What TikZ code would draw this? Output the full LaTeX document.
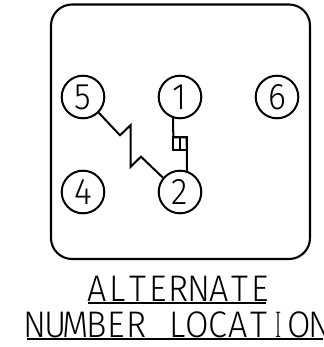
\documentclass[tikz,border=0pt]{standalone}
\usepackage{fontspec}
\usepackage{graphicx}
\setmainfont{Fira Sans Light}
\newfontfamily\serifI{Latin Modern Roman}
\newcommand{\cc}[1]{\makebox[20.3pt][c]{\scalebox{.92}[1]{#1}}}
\newcommand{\cI}{\makebox[20.3pt][c]{\scalebox{.5}[1]{\serifI I}}}
\tikzset{
  numcircle/.style={draw,circle,line width=2pt,minimum size=42.6pt,inner sep=0pt,font=\fontsize{37}{37}\selectfont},
  conn/.style={line width=2pt,line join=miter},
  caption/.style={inner sep=0pt,font=\fontsize{37}{37}\selectfont,anchor=base west},
  rulekey/.style={line width=1.6pt}
}
\begin{document}
\begin{tikzpicture}[x=1pt,y=-1pt]
\useasboundingbox (0,0) rectangle (323,347);
\clip (0,0) rectangle (323,347);
\fill[white] (0,0) rectangle (323,347);
\draw[line width=2.1pt,rounded corners=21pt] (51,4.5) rectangle (310,259);
\node[numcircle] (n5) at (83,97) {\scalebox{.92}[1]{5}};
\node[numcircle] (n1) at (180,97) {\scalebox{.92}[1]{1}};
\node[numcircle] (n6) at (277,97) {\scalebox{.92}[1]{6}};
\node[numcircle] (n4) at (83,192) {\scalebox{.92}[1]{4}};
\node[numcircle] (n2) at (180,192) {\scalebox{.92}[1]{2}};
\draw[conn] (n5.-45) -- (120,135.3) -- (130.7,125) -- (130.7,166.7) -- (141,156.7) -- (n2.140);
\coordinate (boxa) at (173.3,137.3);
\coordinate (boxb) at (186.7,150);
\coordinate (boxm) at (180,137.3);
\draw[conn] (n1.-108) -- (boxa) -- (boxa -| boxb) -- (n2.72);
\draw[conn] (boxa) rectangle (boxb);
\draw[conn] (boxm) -- (boxm |- boxb);
\node[caption] (capa) at (87,301) {\cc{A}\cc{L}\cc{T}\cc{E}\cc{R}\cc{N}\cc{A}\cc{T}\cc{E}};
\node[caption] (capb) at (25,337) {\cc{N}\cc{U}\cc{M}\cc{B}\cc{E}\cc{R}\cc{ }\cc{L}\cc{O}\cc{C}\cc{A}\cc{T}\cI\cc{O}\cc{N}};
\coordinate (ula) at (87.5,302.9);
\coordinate (ulb) at (266,302.9);
\coordinate (ulc) at (27,338.9);
\coordinate (uld) at (323,338.9);
\draw[rulekey] (ula) -- (ulb);
\draw[rulekey] (ulc) -- (uld);
\end{tikzpicture}
\end{document}
